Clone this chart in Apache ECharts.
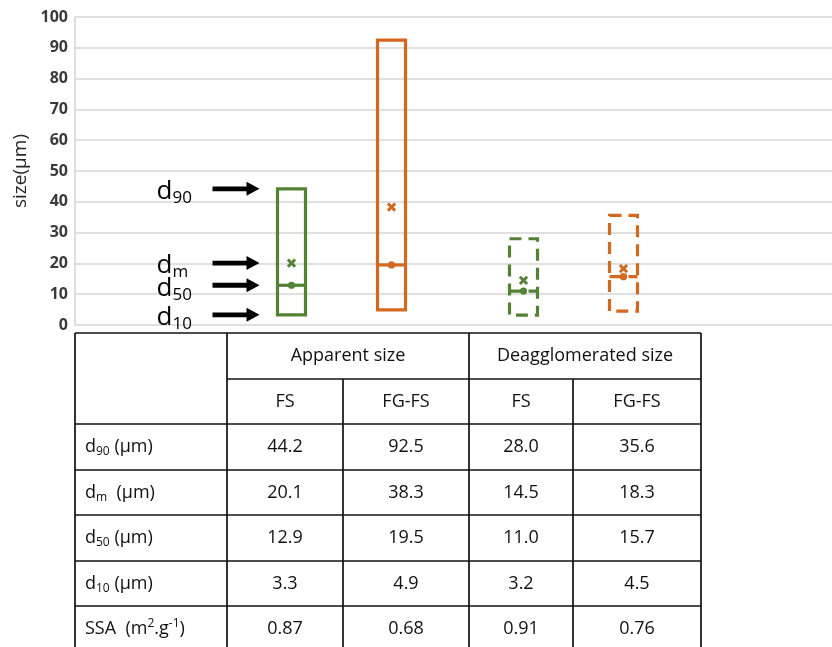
<!DOCTYPE html>
<html><head><meta charset="utf-8">
<script src="https://cdn.jsdelivr.net/npm/echarts@6/dist/echarts.min.js"></script>
<style>html,body{margin:0;padding:0;background:#fff}#main{width:832px;height:647px}</style>
</head><body><div id="main"></div>
<script>
// ---- data ----
const groups = ['Apparent size', 'Deagglomerated size'];
const samples = ['FS', 'FG-FS'];
const d90 = [44.2, 92.5, 28.0, 35.6];
const dm  = [20.1, 38.3, 14.5, 18.3];
const d50 = [12.9, 19.5, 11.0, 15.7];
const d10 = [3.3, 4.9, 3.2, 4.5];
const ssa = [0.87, 0.68, 0.91, 0.76];
const statSubs = ['90', 'm', '50', '10'];
const yMin = 0, yMax = 100, yStep = 10;
const yName = 'size(μm)';

// ---- layout / style ----
const FONT = 'Open Sans';
const colors = ['#548235', '#D2691F'];
const GROUP_GAP = 2.32;
const statValues = [d90, dm, d50, d10];

const boxData = d90.map((v, i) => {
  const g = Math.floor(i / samples.length), s = i % samples.length;
  return [g * GROUP_GAP + s, d10[i], d50[i], dm[i], v, g, s];
});
const annoData = statValues.map((arr) => [0, arr[0]]);

function renderBox(params, api) {
  const x = api.value(0);
  const g = api.value(5), s = api.value(6);
  const top = api.coord([x, api.value(4)]);
  const bot = api.coord([x, api.value(1)]);
  const med = api.coord([x, api.value(2)]);
  const mean = api.coord([x, api.value(3)]);
  const half = 14, c = 3.6;
  const color = colors[s];
  const ls = { stroke: color, lineWidth: 3.2, fill: 'none' };
  if (g === 1) ls.lineDash = [12, 7];
  const cx = top[0];
  return { type: 'group', children: [
    { type: 'rect', shape: { x: cx - half, y: top[1], width: 2 * half, height: bot[1] - top[1] }, style: Object.assign({}, ls) },
    { type: 'line', shape: { x1: cx - half, y1: med[1], x2: cx + half, y2: med[1] }, style: Object.assign({}, ls) },
    { type: 'circle', shape: { cx: cx, cy: med[1], r: 3.6 }, style: { fill: color } },
    { type: 'line', shape: { x1: cx - c, y1: mean[1] - c, x2: cx + c, y2: mean[1] + c }, style: { stroke: color, lineWidth: 3 } },
    { type: 'line', shape: { x1: cx - c, y1: mean[1] + c, x2: cx + c, y2: mean[1] - c }, style: { stroke: color, lineWidth: 3 } }
  ]};
}

function renderAnno(params, api) {
  const p = api.coord([api.value(0), api.value(1)]);
  const y = p[1];
  const tipX = p[0] - 32, startX = p[0] - 79;
  return { type: 'group', children: [
    { type: 'rect', shape: { x: startX, y: y - 2.4, width: tipX - 12 - startX, height: 4.8 }, style: { fill: '#000' } },
    { type: 'polygon', shape: { points: [[tipX, y], [tipX - 13, y - 7], [tipX - 13, y + 7]] }, style: { fill: '#000' } },
    { type: 'text', x: p[0] - 135, y: y + 3, style: {
        text: '{d|d}{s|' + statSubs[params.dataIndex] + '}',
        align: 'left', verticalAlign: 'middle', fill: '#000',
        rich: {
          d: { fontSize: 26, fontFamily: FONT, fill: '#000', lineHeight: 30, verticalAlign: 'middle' },
          s: { fontSize: 17, fontFamily: FONT, fill: '#000', lineHeight: 12, verticalAlign: 'bottom' }
        }
    } }
  ]};
}

// ---- table ----
const colX = [75, 227, 343, 469, 573, 701];
const rowY = [333, 379, 424, 470, 515, 561, 606, 652];
const TC = '#111';
const tableEls = [];
function hLine(y, x1, x2) { tableEls.push({ type: 'line', shape: { x1, y1: y, x2, y2: y }, style: { stroke: TC, lineWidth: 1.7 }, silent: true }); }
function vLine(x, y1, y2) { tableEls.push({ type: 'line', shape: { x1: x, y1, x2: x, y2 }, style: { stroke: TC, lineWidth: 1.7 }, silent: true }); }
function cellText(t, x, y, align, rich) {
  const st = { text: t, x, y, align: align || 'center', verticalAlign: 'middle', fill: TC, fontSize: 18, fontFamily: FONT };
  if (rich) st.rich = rich;
  tableEls.push({ type: 'text', style: st, silent: true });
}
hLine(rowY[0], colX[0], colX[5]);
hLine(rowY[1], colX[1], colX[5]);
for (let r = 2; r < rowY.length; r++) hLine(rowY[r], colX[0], colX[5]);
vLine(colX[0], rowY[0], rowY[rowY.length - 1]);
vLine(colX[1], rowY[0], rowY[rowY.length - 1]);
vLine(colX[2], rowY[1], rowY[rowY.length - 1]);
vLine(colX[3], rowY[0], rowY[rowY.length - 1]);
vLine(colX[4], rowY[1], rowY[rowY.length - 1]);
vLine(colX[5], rowY[0], rowY[rowY.length - 1]);
const mid = (a, b) => (a + b) / 2;
groups.forEach((g, gi) => cellText(g, mid(colX[1 + 2 * gi], colX[3 + 2 * gi]), mid(rowY[0], rowY[1])));
for (let i = 0; i < 4; i++) cellText(samples[i % 2], mid(colX[1 + i], colX[2 + i]), mid(rowY[1], rowY[2]));
const richRow = {
  d: { fontSize: 18, fontFamily: FONT, fill: TC, lineHeight: 22, verticalAlign: 'middle' },
  s: { fontSize: 12, fontFamily: FONT, fill: TC, lineHeight: 12, verticalAlign: 'bottom' },
  p: { fontSize: 12, fontFamily: FONT, fill: TC, lineHeight: 12, verticalAlign: 'top' }
};
statValues.forEach((arr, r) => {
  const yc = mid(rowY[2 + r], rowY[3 + r]);
  const gap = statSubs[r] === 'm' ? '  ' : ' ';
  cellText('{d|d}{s|' + statSubs[r] + '}{d|' + gap + '(μm)}', 85, yc, 'left', richRow);
  arr.forEach((v, i) => cellText(v.toFixed(1), mid(colX[1 + i], colX[2 + i]), yc));
});
{
  const yc = mid(rowY[6], rowY[7]);
  cellText('{d|SSA  (m}{p|2}{d|.g}{p|-1}{d|)}', 85, yc, 'left', richRow);
  ssa.forEach((v, i) => cellText(v.toFixed(2), mid(colX[1 + i], colX[2 + i]), yc));
}

const chart = echarts.init(document.getElementById('main'));
chart.setOption({
  animation: false,
  backgroundColor: '#fff',
  grid: { left: 75, right: 0, top: 17, bottom: 322, containLabel: false, outerBoundsMode: 'none' },
  xAxis: { type: 'value', min: -2.165, max: 5.405, show: false },
  yAxis: {
    type: 'value', min: yMin, max: yMax, interval: yStep,
    name: yName, nameLocation: 'middle', nameGap: 43, nameRotate: 90,
    nameTextStyle: { fontSize: 19, color: '#262626', fontFamily: FONT },
    axisLine: { show: true, onZero: false, lineStyle: { color: '#d6d6d6', width: 1.6 } },
    axisTick: { show: false },
    axisLabel: { fontSize: 16, color: '#3a3a3a', fontWeight: 'bold', margin: 7, fontFamily: FONT },
    splitLine: { show: true, lineStyle: { color: '#d6d6d6', width: 1.6 } }
  },
  series: [
    { type: 'custom', renderItem: renderBox, data: boxData, clip: false, z: 3 },
    { type: 'custom', renderItem: renderAnno, data: annoData, clip: false, z: 4 }
  ],
  graphic: { elements: tableEls }
});
</script>
</body></html>
